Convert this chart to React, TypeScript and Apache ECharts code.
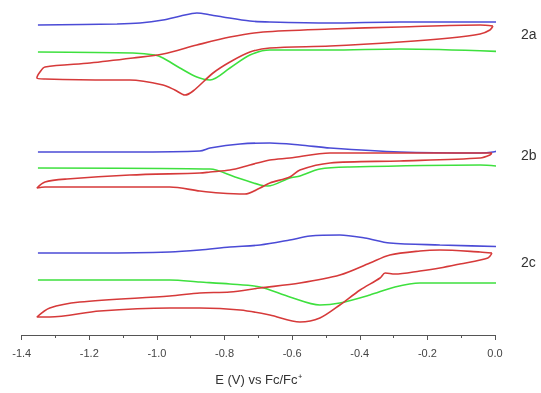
import React, { useEffect, useRef } from "react";
import * as echarts from "echarts";

// E (V vs Fc/Fc+) and offset current (arbitrary units, traces stacked vertically)
const blueA: [number, number][] = [[-1.352,310],[-1.118,311],[-1.05,312],[-0.982,315],[-0.93,319],[-0.882,322],[-0.84,320],[-0.805,318],[-0.725,314],[-0.666,313],[-0.488,312],[-0.281,313],[0.053,313]];
const greenA: [number, number][] = [[-1.352,283],[-1.071,282],[-1.006,280],[-0.982,277],[-0.932,267],[-0.882,258],[-0.843,255],[-0.784,267],[-0.725,280],[-0.666,285],[-0.488,285],[-0.281,286],[0.053,283]];
const redA: [number, number][] = [[-0.006,309],[-0.044,310],[-0.281,308],[-0.488,306],[-0.686,303],[-0.784,298],[-0.882,290],[-0.982,281],[-1.071,277],[-1.198,272],[-1.331,268],[-1.346,263],[-1.355,257],[-1.331,256],[-1.139,255],[-1.080,255],[-0.982,250],[-0.947,245],[-0.917,240],[-0.893,244],[-0.834,262],[-0.784,273],[-0.725,283],[-0.666,287],[-0.488,289],[-0.281,293],[-0.133,297],[-0.044,301],[-0.015,305],[-0.006,309]];

const blueB: [number, number][] = [[-1.352,183],[-1.080,183],[-0.873,184],[-0.843,187],[-0.754,191],[-0.666,192],[-0.577,190],[-0.488,187],[-0.281,183],[-0.044,182],[-0.006,183],[0.015,185],[0.030,188],[0.053,193]];
const greenB: [number, number][] = [[-1.352,167],[-0.843,166],[-0.769,158],[-0.695,150],[-0.672,149],[-0.607,157],[-0.577,159],[-0.518,166],[-0.429,168],[-0.044,170],[0.053,167]];
const redB: [number, number][] = [[-0.009,182],[-0.044,182],[-0.281,182],[-0.488,182],[-0.607,177],[-0.666,175],[-0.725,170],[-0.784,165],[-0.843,163],[-0.873,162],[-1.080,160],[-1.266,156],[-1.331,153],[-1.355,147],[-1.331,148],[-1.169,148],[-0.962,148],[-0.873,144],[-0.814,142],[-0.740,141],[-0.695,147],[-0.666,152],[-0.607,158],[-0.577,165],[-0.488,172],[-0.281,174],[-0.044,177],[-0.015,180],[-0.009,182]];

const blueC: [number, number][] = [[-1.352,82],[-1.169,82],[-0.962,83],[-0.873,85],[-0.784,88],[-0.695,90],[-0.607,95],[-0.547,99],[-0.459,100],[-0.385,97],[-0.311,92],[-0.163,90],[0.053,88]];
const greenC: [number, number][] = [[-1.352,55],[-0.962,55],[-0.873,53],[-0.784,51],[-0.695,48],[-0.607,38],[-0.518,30],[-0.459,32],[-0.370,40],[-0.296,48],[-0.222,52],[0.053,52]];
const redC: [number, number][] = [[-0.009,82],[-0.044,83],[-0.163,85],[-0.222,84],[-0.311,80],[-0.370,72],[-0.459,60],[-0.577,52],[-0.695,47],[-0.784,43],[-0.873,42],[-0.962,39],[-1.228,33],[-1.317,27],[-1.355,18],[-1.317,18],[-1.169,24],[-0.962,27],[-0.873,27],[-0.754,25],[-0.666,20],[-0.577,13],[-0.518,17],[-0.459,30],[-0.399,45],[-0.340,57],[-0.325,62],[-0.296,61],[-0.222,64],[-0.163,67],[-0.104,71],[-0.021,77],[-0.009,82]];

const traceLabels = ["2a", "2b", "2c"];
const labelY = [35, 156, 263];

const BLUE = "#4b4bd6";
const GREEN = "#3ee03e";
const RED = "#d63a3a";

export default function App() {
  const ref = useRef<HTMLDivElement>(null);
  useEffect(() => {
    if (!ref.current) return;
    const chart = echarts.init(ref.current, undefined, { renderer: "svg" });
    const mk = (data: [number, number][], color: string) => ({
      type: "line",
      data,
      showSymbol: false,
      smooth: 0.3,
      clip: false,
      lineStyle: { color, width: 1.6 },
      z: color === RED ? 3 : 2,
    });
    chart.setOption({
      animation: false,
      grid: { left: 21.7, right: 46, top: 0, bottom: 58 },
      xAxis: {
        type: "value",
        min: -1.4,
        max: 0,
        interval: 0.2,
        name: "E (V) vs Fc/Fc⁺",
        nameLocation: "middle",
        nameGap: 38,
        nameTextStyle: { fontSize: 13, color: "#333", fontFamily: "Liberation Sans" },
        axisLine: { lineStyle: { color: "#555", width: 1 } },
        axisTick: { length: 5, lineStyle: { color: "#555" } },
        minorTick: { show: true, splitNumber: 2, length: 3, lineStyle: { color: "#555" } },
        splitLine: { show: false },
        axisLabel: {
          fontSize: 11,
          color: "#444",
          margin: 12,
          fontFamily: "Liberation Sans",
          formatter: (v: number) => v.toFixed(1),
        },
      },
      yAxis: {
        type: "value",
        min: 0,
        max: 335,
        show: false,
        splitLine: { show: false },
      },
      series: [
        mk(blueA, BLUE), mk(greenA, GREEN), mk(redA, RED),
        mk(blueB, BLUE), mk(greenB, GREEN), mk(redB, RED),
        mk(blueC, BLUE), mk(greenC, GREEN), mk(redC, RED),
      ],
      graphic: traceLabels.map((t, i) => ({
        type: "text",
        left: 521,
        top: labelY[i] - 8,
        style: { text: t, fontSize: 14, fill: "#333", fontFamily: "Liberation Sans" },
      })),
    });
    return () => chart.dispose();
  }, []);
  return <div ref={ref} style={{ position: "fixed", left: 0, top: 0, width: 541, height: 393 }} />;
}
